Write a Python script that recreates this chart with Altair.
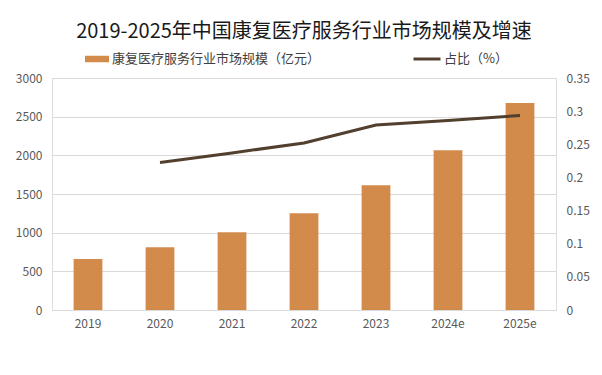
import altair as alt
import pandas as pd

years = ["2019", "2020", "2021", "2022", "2023", "2024e", "2025e"]
market = [658, 813, 1007, 1252, 1614, 2065, 2676]
share = [None, 0.2225, 0.237, 0.252, 0.279, 0.286, 0.2935]

bar_name = "康复医疗服务行业市场规模（亿元）"
line_name = "占比（%）"

df = pd.DataFrame({"year": years, "market": market, "share": share})
df["bar_s"] = bar_name
df["line_s"] = line_name

FONT = "Noto Sans CJK SC"
BAR_COLOR = "#D38B4C"
LINE_COLOR = "#523F2E"

x = alt.X("year:N", sort=years, title=None,
          scale=alt.Scale(paddingInner=0.6, paddingOuter=0.3),
          axis=alt.Axis(labelAngle=0, ticks=False, domain=False, labelPadding=8,
                        labelFontSize=12, labelColor="#595959", labelFont=FONT))

bars = alt.Chart(df).mark_bar(color=BAR_COLOR).encode(
    x=x,
    y=alt.Y("market:Q", title=None,
            scale=alt.Scale(domain=[0, 3000], nice=False),
            axis=alt.Axis(values=[0, 500, 1000, 1500, 2000, 2500, 3000], format="d",
                          ticks=False, domain=False, labelPadding=10,
                          grid=True, gridColor="#D9D9D9", gridWidth=1,
                          labelFontSize=12, labelColor="#595959", labelFont=FONT)),
    fill=alt.Fill("bar_s:N", title=None,
                  scale=alt.Scale(domain=[bar_name], range=[BAR_COLOR]),
                  legend=alt.Legend(orient="none", legendX=33, legendY=-31,
                                    symbolType="M-1,-0.27H1V0.27H-1Z", symbolSize=576,
                                    symbolStrokeWidth=0, padding=0, labelOffset=3,
                                    labelLimit=0,
                                    labelFontSize=13, labelColor="#404040", labelFont=FONT)),
)

line = alt.Chart(df).transform_filter("datum.share != null").mark_line(
    color=LINE_COLOR, strokeWidth=3).encode(
    x=x,
    y=alt.Y("share:Q", title=None,
            scale=alt.Scale(domain=[0, 0.35], nice=False),
            axis=alt.Axis(orient="right", values=[0, 0.05, 0.1, 0.15, 0.2, 0.25, 0.3, 0.35],
                          format="~g", ticks=False, domain=False, grid=False, labelPadding=10,
                          labelFontSize=12, labelColor="#595959", labelFont=FONT)),
    stroke=alt.Stroke("line_s:N", title=None,
                      scale=alt.Scale(domain=[line_name], range=[LINE_COLOR]),
                      legend=alt.Legend(orient="none", legendX=360, legendY=-34,
                                        symbolType="stroke", symbolSize=729,
                                        symbolStrokeWidth=3, padding=0, labelOffset=2,
                                        labelLimit=0,
                                        labelFontSize=13, labelColor="#404040", labelFont=FONT)),
)

chart = alt.layer(bars, line).resolve_scale(
    y="independent", fill="independent", stroke="independent"
).properties(
    width=504, height=232,
    padding={"left": 52, "top": 78, "right": 46, "bottom": 65},
    autosize=alt.AutoSizeParams(type="none"),
    title=alt.TitleParams("2019-2025年中国康复医疗服务行业市场规模及增速",
                          fontSize=20, font=FONT, fontWeight="normal", color="#1A1A1A",
                          anchor="middle", offset=2),
).configure_view(stroke=None).configure(background="white")

chart.save("out.html", embed_options={"renderer": "svg", "actions": False})
